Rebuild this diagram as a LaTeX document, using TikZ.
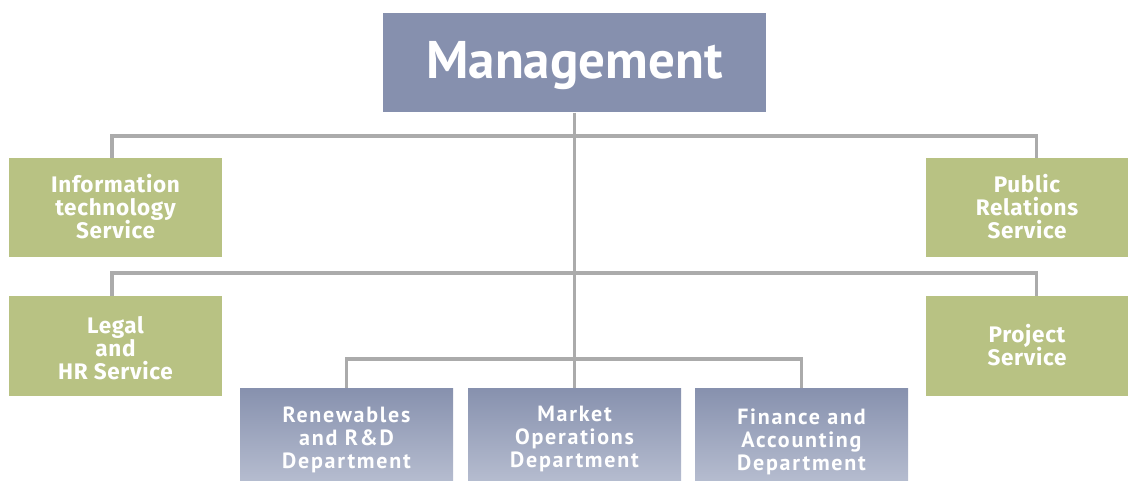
\documentclass[tikz,border=0pt]{standalone}
\usepackage{fontspec}
\setmainfont{PT Sans}
\newfontfamily\gfont[LetterSpace=3.0]{Fira Sans}
\newfontfamily\dfont[LetterSpace=8.0]{PT Sans}
\definecolor{mgmt}{HTML}{8690AE}
\definecolor{grn}{HTML}{B8C283}
\definecolor{depttop}{HTML}{8791AE}
\definecolor{deptbot}{HTML}{B5BCCF}
\definecolor{conncol}{HTML}{ABABAB}
\newcommand\lstrut{\rule[-8pt]{0pt}{28pt}}
\newcommand\mlines[2]{\raisebox{-#1}[\height][\depth]{\parbox{190pt}{\centering\lineskiplimit=-16000pt\baselineskip=23pt #2}}}
\begin{document}
\begin{tikzpicture}[x=1pt,y=-1pt,
  conn/.style={draw=conncol,line width=3.5pt},
  basebox/.style={rectangle,inner sep=0pt,text=white},
  mbox/.style={basebox,fill=mgmt,minimum width=383pt,minimum height=99.5pt,
    font=\bfseries\fontsize{53}{60}\selectfont},
  gbox/.style={basebox,fill=grn,minimum height=99.5pt,
    font=\gfont\bfseries\fontsize{22.5}{23}\selectfont},
  dbox/.style={basebox,top color=depttop,bottom color=deptbot,
    minimum width=213pt,minimum height=93pt,
    font=\dfont\bfseries\fontsize{22}{23}\selectfont}]
\useasboundingbox (0,0) rectangle (1128,481);
\coordinate (xl) at (112,0);
\coordinate (xr) at (1036.5,0);
\coordinate (h1) at (574.5,136);
\coordinate (h2) at (574.5,273);
\coordinate (h3) at (574.5,359);
% nodes
\node[mbox] (M) at (574.5,62.75) {\raisebox{-3pt}[\height][\depth]{Management}};
\node[gbox,minimum width=213pt] (IT) at (115.5,207.5) {\mlines{2.5pt}{\lstrut Information\\\lstrut technology\\\lstrut Service}};
\node[gbox,minimum width=202pt] (PR) at (1027,207.5) {\mlines{2.5pt}{\lstrut Public\\\lstrut Relations\\\lstrut Service}};
\node[gbox,minimum width=213pt] (LG) at (115.5,345.75) {\mlines{5pt}{\lstrut Legal\\\lstrut and\\\lstrut HR Service}};
\node[gbox,minimum width=202pt] (PJ) at (1027,345.75) {\mlines{2.5pt}{\lstrut Project\\\lstrut Service}};
\node[dbox] (RN) at (346.5,434.5) {\mlines{4.8pt}{\lstrut Renewables\\\lstrut and R\&D\\\lstrut Department}};
\node[dbox] (MK) at (574.5,434.5) {\mlines{4pt}{\lstrut Market\\\lstrut Operations\\\lstrut Department}};
\node[dbox] (FN) at (801.5,434.5) {\mlines{6.5pt}{\lstrut Finance and\\\lstrut Accounting\\\lstrut Department}};
% connectors
\draw[conn] (M.south) -- (MK.north);
\draw[conn] (IT.north -| xl) |- (h1) -| (PR.north -| xr);
\draw[conn] (LG.north -| xl) |- (h2) -| (PJ.north -| xr);
\draw[conn] (RN.north) |- (h3) -| (FN.north);
\end{tikzpicture}
\end{document}
